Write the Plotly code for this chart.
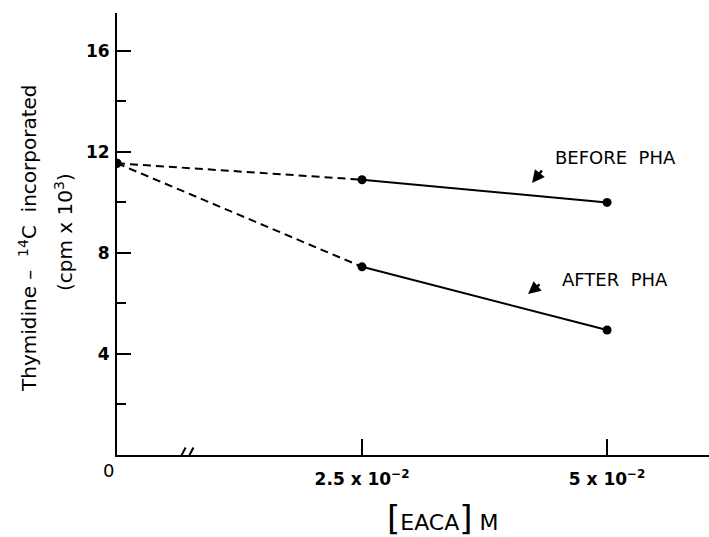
import plotly.graph_objects as go

# EACA concentration (M) and thymidine-14C incorporation (cpm x 10^3)
eaca = [0.0, 0.025, 0.05]
before_pha = [11.55, 10.9, 10.0]
after_pha = [11.55, 7.45, 4.95]

x_tickvals = [0.025, 0.05]
x_ticktext = ["2.5 x 10<sup>−2</sup>", "5 x 10<sup>−2</sup>"]
y_tickvals = [4, 8, 12, 16]
y_minorvals = [2, 6, 10, 14]

FONT = "DejaVu Sans"
W, H = 709, 537
L, R, T, B = 117, 0, 13, 82

fig = go.Figure()

for series in (before_pha, after_pha):
    # dashed from zero to the first concentration, solid beyond it
    fig.add_trace(go.Scatter(
        x=eaca[:2], y=series[:2], mode="lines",
        line=dict(color="black", width=2, dash="8px,5px"),
        showlegend=False, hoverinfo="skip"))
    fig.add_trace(go.Scatter(
        x=eaca[1:], y=series[1:], mode="lines+markers",
        line=dict(color="black", width=2), marker=dict(color="black", size=9),
        showlegend=False))
    fig.add_trace(go.Scatter(
        x=eaca[:1], y=series[:1], mode="markers",
        marker=dict(color="black", size=9), showlegend=False))

# axis break mark on the x axis
for dx in (-0.0004, 0.0004):
    xc = 0.007 + dx
    fig.add_shape(type="line", xref="x", yref="y",
                  x0=xc - 0.0004, y0=-0.3, x1=xc + 0.0004, y1=0.3,
                  line=dict(color="black", width=2))


def px_x(p):
    return (p - L) / (W - L - R)


def px_y(p):
    return (H - B - p) / (H - B - T)


def paper_text(text, x, y, size, angle=0):
    return dict(text=text, x=px_x(x), y=px_y(y), xref="paper", yref="paper",
                xanchor="center", yanchor="middle", textangle=angle,
                showarrow=False, font=dict(family=FONT, size=size, color="black"))


def arrow(x, y, ax, ay):
    return dict(text="", x=x, y=y, xref="x", yref="y", ax=ax, ay=ay,
                showarrow=True, arrowhead=2, arrowsize=1, arrowwidth=2.5,
                arrowcolor="black", standoff=0)


annotations = [
    dict(text="BEFORE  PHA", x=0.0509, y=11.76, xref="x", yref="y",
         xanchor="center", yanchor="middle", showarrow=False,
         font=dict(family=FONT, size=18, color="black")),
    dict(text="AFTER  PHA", x=0.0508, y=6.93, xref="x", yref="y",
         xanchor="center", yanchor="middle", showarrow=False,
         font=dict(family=FONT, size=18, color="black")),
    arrow(0.04235, 10.77, 11, -14),
    arrow(0.04194, 6.37, 13, -11),
    paper_text("0", 108, 470, 18),
    paper_text("Thymidine –  <sup>14</sup>C  incorporated", 28, 238, 20, -90),
    paper_text("(cpm x 10<sup>3</sup>)", 64, 232, 20, -90),
    paper_text("<span style='font-size:34px'>[</span>EACA"
               "<span style='font-size:34px'>]</span> M", 443, 518, 22),
]

fig.update_layout(
    width=W, height=H,
    margin=dict(l=L, r=R, t=T, b=B, pad=0),
    paper_bgcolor="white", plot_bgcolor="white",
    annotations=annotations,
    xaxis=dict(range=[0, 0.0604], showgrid=False, zeroline=False,
               showline=True, linecolor="black", linewidth=2,
               tickvals=x_tickvals, ticktext=x_ticktext,
               ticks="inside", ticklen=16, tickwidth=2, tickcolor="black",
               tickfont=dict(family=FONT, size=17, color="black", weight="bold"),
               ticklabelstandoff=8),
    yaxis=dict(range=[0, 17.5], showgrid=False, zeroline=False,
               showline=True, linecolor="black", linewidth=2,
               tickvals=y_tickvals,
               ticks="inside", ticklen=14, tickwidth=2, tickcolor="black",
               tickfont=dict(family=FONT, size=17, color="black", weight="bold"),
               ticklabelstandoff=2,
               minor=dict(tickvals=y_minorvals, ticks="inside", ticklen=9,
                          tickwidth=2, tickcolor="black")),
)

fig.write_html("out.html")
